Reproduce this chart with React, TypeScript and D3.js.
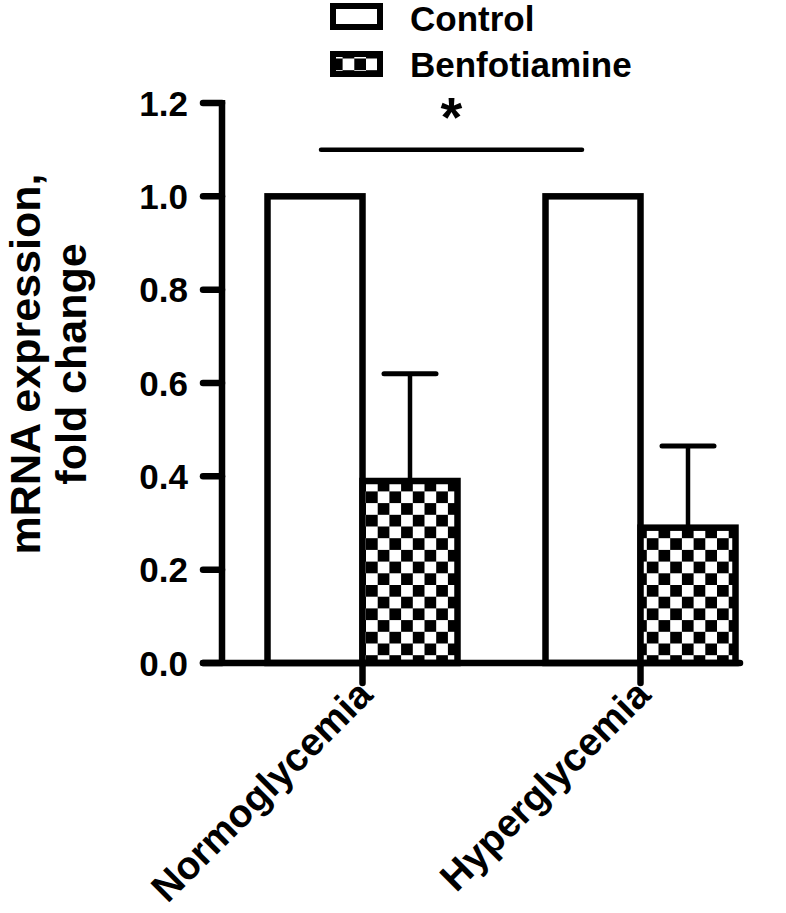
import React from 'react';
import * as d3 from 'd3';

const groups = ['Normoglycemia', 'Hyperglycemia'];
const series = ['Control', 'Benfotiamine'];
const controlValues = [1.0, 1.0];
const benfoValues = [0.39, 0.29];
const benfoErrTop = [0.62, 0.465];
const yTicks = [0, 0.2, 0.4, 0.6, 0.8, 1.0, 1.2];
const sigLevel = 1.1;

const font = 'Liberation Sans, Arial, sans-serif';

export default function App() {
  const width = 786;
  const height = 913;
  const axisX = 222;
  const sw = 6.5;

  const y = d3.scaleLinear().domain([0, 1.2]).range([663, 103]);
  const xGroup = d3.scalePoint().domain(groups).range([362.5, 640.5]);
  const xSub = d3.scaleBand().domain(series).range([-95, 95]);
  const bw = xSub.bandwidth();

  const barX = (g: string, s: string) => (xGroup(g) as number) + (xSub(s) as number);
  const fmt = d3.format('.1f');

  const sigX1 = barX(groups[0], 'Control') + bw / 2 + 6;
  const sigX2 = barX(groups[1], 'Control') + bw / 2 - 11;

  return (
    <svg width={width} height={height} style={{ display: 'block', position: 'absolute', left: 0, top: 0 }}>
      <defs>
        <pattern id="checker" patternUnits="userSpaceOnUse" width={23.4} height={23.4} x={366} y={0}>
          <rect width={23.4} height={23.4} fill="#fff" />
          <rect width={11.7} height={11.7} fill="#000" />
          <rect x={11.7} y={11.7} width={11.7} height={11.7} fill="#000" />
        </pattern>
      </defs>

      {/* legend */}
      <rect x={333} y={6} width={47} height={21} fill="#fff" stroke="#000" strokeWidth={6} />
      <text x={410} y={31} fontFamily={font} fontWeight="bold" fontSize={35}>Control</text>
      <rect x={333} y={54} width={47} height={20} fill="url(#checker)" stroke="#000" strokeWidth={6} />
      <text x={410} y={77} fontFamily={font} fontWeight="bold" fontSize={35}>Benfotiamine</text>

      {/* y axis label */}
      <g transform={`translate(40,364) rotate(-90)`}>
        <text textAnchor="middle" fontFamily={font} fontWeight="bold" fontSize={43}>mRNA expression,</text>
        <text y={46} textAnchor="middle" fontFamily={font} fontWeight="bold" fontSize={43}>fold change</text>
      </g>

      {/* bars */}
      {groups.map((g, i) => (
        <g key={g}>
          <rect x={barX(g, 'Control')} y={y(controlValues[i])} width={bw} height={y(0) - y(controlValues[i])}
            fill="#fff" stroke="#000" strokeWidth={sw} />
          <line x1={barX(g, 'Benfotiamine') + bw / 2} x2={barX(g, 'Benfotiamine') + bw / 2}
            y1={y(benfoValues[i])} y2={y(benfoErrTop[i])} stroke="#000" strokeWidth={4.5} />
          <line x1={barX(g, 'Benfotiamine') + bw / 2 - 26} x2={barX(g, 'Benfotiamine') + bw / 2 + 26}
            y1={y(benfoErrTop[i])} y2={y(benfoErrTop[i])} stroke="#000" strokeWidth={5} strokeLinecap="round" />
          <rect x={barX(g, 'Benfotiamine')} y={y(benfoValues[i])} width={bw} height={y(0) - y(benfoValues[i])}
            fill="url(#checker)" stroke="#000" strokeWidth={sw} />
        </g>
      ))}

      {/* significance */}
      <line x1={sigX1} x2={sigX2} y1={y(sigLevel)} y2={y(sigLevel)} stroke="#000" strokeWidth={4.5} strokeLinecap="round" />
      <text x={(sigX1 + sigX2) / 2} y={136} textAnchor="middle" fontFamily={font} fontWeight="bold" fontSize={56}>*</text>

      {/* y axis */}
      <line x1={axisX} x2={axisX} y1={y(1.2) - 3} y2={y(0)} stroke="#000" strokeWidth={sw} />
      {yTicks.map(t => (
        <g key={t}>
          <line x1={axisX - 19} x2={axisX} y1={y(t)} y2={y(t)} stroke="#000" strokeWidth={sw} strokeLinecap="round" />
          <text x={188} y={y(t)} dy="0.36em" textAnchor="end" fontFamily={font} fontWeight="bold" fontSize={35}>{fmt(t)}</text>
        </g>
      ))}

      {/* x axis */}
      <line x1={axisX - 19} x2={740} y1={y(0)} y2={y(0)} stroke="#000" strokeWidth={sw} strokeLinecap="round" />
      {groups.map(g => (
        <g key={g}>
          <line x1={xGroup(g)} x2={xGroup(g)} y1={y(0)} y2={y(0) + 20} stroke="#000" strokeWidth={sw} strokeLinecap="round" />
          <text transform={`translate(${(xGroup(g) as number) + 12},${y(0) + 34}) rotate(-45)`} textAnchor="end"
            fontFamily={font} fontWeight="bold" fontSize={39}>{g}</text>
        </g>
      ))}
    </svg>
  );
}
